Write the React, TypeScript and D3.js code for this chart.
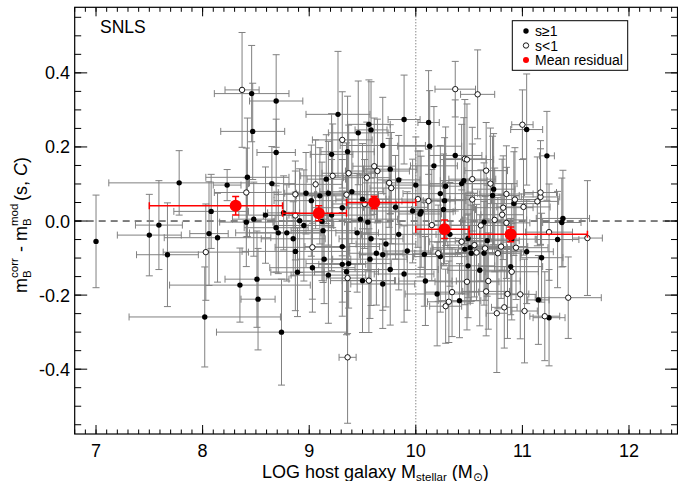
import React from "react";
import * as d3 from "d3";

// s >= 1 (filled)
const filledX = [7.00,7.50,7.59,7.67,7.78,8.02,8.06,8.08,8.14,8.23,8.35,8.42,8.41,8.46,8.47,8.48,8.51,8.52,8.59,8.65,8.69,8.69,8.69,8.71,8.74,8.76,8.79,8.85,8.87,8.89,8.91,8.95,8.97,9.02,9.03,9.10,9.12,9.13,9.14,9.16,9.18,9.18,9.21,9.21,9.27,9.31,9.31,9.31,9.35,9.36,9.37,9.40,9.45,9.46,9.48,9.50,9.50,9.55,9.56,9.57,9.58,9.58,9.63,9.69,9.69,9.69,9.72,9.76,9.76,9.81,9.84,9.84,9.89,9.89,9.92,9.97,10.00,10.05,10.04,10.08,10.09,10.12,10.13,10.17,10.20,10.23,10.23,10.27,10.26,10.28,10.32,10.37,10.41,10.43,10.45,10.46,10.49,10.49,10.51,10.52,10.60,10.64,10.64,10.67,10.73,10.72,10.89,10.90,10.92,11.04,11.04,11.15,11.18,11.23,11.25,11.33,11.38,11.37];
const filledY = [-0.055,-0.038,-0.011,-0.091,0.103,-0.259,-0.034,0.026,-0.045,0.097,-0.173,0.118,-0.003,0.344,0.242,0.005,-0.157,-0.211,0.016,0.101,0.185,0.324,-0.018,-0.032,-0.300,0.022,-0.032,-0.048,-0.082,-0.138,0.001,-0.012,0.075,0.055,-0.126,0.068,-0.001,-0.026,-0.103,0.113,0.075,-0.146,0.180,0.016,0.288,0.036,-0.069,-0.117,-0.137,0.187,-0.115,0.079,-0.032,0.238,0.005,0.059,-0.161,-0.003,0.261,-0.103,0.246,-0.048,-0.087,0.204,-0.091,-0.170,-0.062,0.140,-0.131,0.037,0.111,-0.036,0.274,-0.143,-0.081,0.027,0.097,0.025,0.019,-0.090,-0.162,0.266,0.202,0.149,-0.197,-0.096,0.074,0.055,0.031,0.094,-0.036,0.177,-0.215,0.101,0.109,-0.076,-0.047,-0.121,-0.072,-0.087,-0.133,-0.003,-0.087,-0.053,0.086,0.069,-0.123,-0.049,0.047,0.247,-0.083,-0.213,-0.099,0.176,-0.261,-0.050,0.007,-0.004];
const filledXErr = [0,0.30,0.22,0.29,0.66,0.71,0.18,0.35,0.50,0.13,0.66,0.39,0.25,0.35,0.30,0.20,0.30,0.16,0.25,0.22,0.18,0.25,0.30,0.40,0.61,0.15,0.35,0.30,0.50,0.25,0.12,0.28,0.20,0.35,0.40,0.22,0.45,0.30,0.25,0.18,0.30,0.35,0.20,0.40,0.30,0.28,0.35,0.22,0.30,0.25,0.40,0.30,0.20,0.28,0.35,0.25,0.30,0.22,0.20,0.35,0.15,0.30,0.25,0.40,0.22,0.30,0.28,0.25,0.45,0.30,0.20,0.35,0.15,0.28,0.22,0.40,0.25,0.30,0.20,0.35,0.25,0.10,0.30,0.22,0.30,0.25,0.35,0.20,0.30,0.15,0.28,0.25,0.20,0.30,0.22,0.30,0.20,0.25,0.35,0.28,0.30,0.22,0.25,0.30,0.20,0.25,0.30,0.22,0.25,0.15,0.25,0.10,0.20,0.07,0.15,0.20,0.25,0.18];
const filledYErr = [0.125,0.11,0.12,0.14,0.087,0.135,0.14,0.10,0.12,0.042,0.10,0.16,0.12,0.13,0.13,0.10,0.13,0.137,0.13,0.10,0.09,0.125,0.12,0.11,0.143,0.10,0.13,0.10,0.16,0.12,0.14,0.15,0.11,0.15,0.12,0.13,0.16,0.14,0.12,0.12,0.14,0.13,0.11,0.15,0.17,0.13,0.15,0.14,0.17,0.15,0.12,0.14,0.16,0.14,0.12,0.15,0.14,0.13,0.12,0.16,0.13,0.18,0.14,0.13,0.15,0.12,0.17,0.12,0.15,0.14,0.12,0.15,0.12,0.13,0.16,0.14,0.13,0.15,0.17,0.14,0.12,0.14,0.15,0.16,0.14,0.15,0.13,0.17,0.15,0.16,0.14,0.15,0.10,0.16,0.17,0.15,0.16,0.14,0.15,0.13,0.15,0.16,0.14,0.15,0.15,0.16,0.13,0.15,0.14,0.15,0.14,0.12,0.12,0.12,0.13,0.13,0.13,0.12];

// s < 1 (open)
const openX = [8.03,8.37,8.41,8.87,8.87,9.03,9.06,9.22,9.31,9.36,9.35,9.37,9.36,9.52,9.54,9.56,9.61,9.64,9.75,9.77,10.02,10.12,10.15,10.21,10.28,10.31,10.34,10.37,10.43,10.46,10.48,10.48,10.53,10.53,10.55,10.57,10.58,10.61,10.65,10.66,10.66,10.68,10.70,10.74,10.76,10.77,10.80,10.81,10.82,10.83,10.85,10.85,10.86,10.90,10.93,10.94,10.98,11.00,11.01,11.02,11.14,11.17,11.17,11.21,11.25,11.43,11.61];
const openY = [-0.084,0.354,0.077,0.072,0.015,-0.071,0.099,0.122,0.219,-0.154,0.071,0.129,-0.368,0.046,0.117,-0.161,0.148,0.135,0.103,0.089,0.059,0.054,-0.011,-0.087,-0.230,-0.218,-0.192,0.356,-0.056,0.168,0.166,-0.164,0.113,0.058,-0.065,-0.085,0.342,-0.012,-0.074,0.136,-0.190,-0.162,0.101,0.003,-0.249,-0.087,-0.069,0.017,0.036,-0.233,0.073,-0.005,-0.197,-0.137,0.058,-0.072,-0.198,0.260,0.038,-0.243,0.053,0.065,0.077,-0.257,-0.030,-0.207,-0.046];
const openXErr = [0.40,0.16,0.30,0.20,0.30,0.35,0.25,0.30,0.28,0.20,0.30,0.25,0.08,0.30,0.22,0.25,0.20,0.30,0.25,0.20,0.30,0.25,0.30,0.22,0.15,0.20,0.25,0.19,0.30,0.20,0.25,0.30,0.22,0.30,0.25,0.20,0.16,0.28,0.25,0.20,0.22,0.30,0.25,0.30,0.10,0.22,0.25,0.20,0.28,0.12,0.25,0.22,0.20,0.25,0.22,0.30,0.15,0.10,0.25,0.12,0.20,0.18,0.15,0.14,0.22,0.31,0.14];
const openYErr = [0.13,0.155,0.12,0.09,0.12,0.14,0.12,0.14,0.13,0.15,0.14,0.13,0.178,0.12,0.15,0.14,0.13,0.14,0.12,0.15,0.13,0.14,0.15,0.13,0.10,0.11,0.12,0.075,0.14,0.16,0.15,0.13,0.14,0.15,0.14,0.13,0.12,0.15,0.14,0.13,0.12,0.13,0.15,0.14,0.16,0.15,0.14,0.15,0.14,0.11,0.13,0.15,0.12,0.13,0.14,0.14,0.12,0.094,0.13,0.14,0.12,0.13,0.14,0.12,0.13,0.11,0.155];

// Mean residuals in mass bins
const meanX = [8.31, 9.09, 9.61, 10.27, 10.89];
const meanY = [0.041, 0.021, 0.050, -0.022, -0.036];
const meanYErr = [0.025, 0.02, 0.017, 0.025, 0.02];
const binLo = [7.50, 8.75, 9.35, 10.00, 10.50];
const binHi = [8.75, 9.35, 10.00, 10.50, 11.61];

const xMajor = [7, 8, 9, 10, 11, 12];
const yMajor = [-0.4, -0.2, 0.0, 0.2, 0.4];
const yMajorLabels = ["-0.4", "-0.2", "0.0", "0.2", "0.4"];

const FONT = "'Liberation Sans', Arial, Helvetica, sans-serif";

export default function App() {
  const L = 74.7, R = 677.5, T = 7.3, B = 434;
  const x = d3.scaleLinear().domain([6.8, 12.455]).range([L, R]);
  const y = d3.scaleLinear().domain([-0.575, 0.577]).range([B, T]);

  const xMinor = d3.range(68, 125).map((v) => v / 10);
  const yMinor = d3.range(-11, 12).map((v) => v * 0.05);

  const barColor = "#808080";
  const cap = 3.5;

  const errBars = (xs, ys, xe, ye, key) =>
    xs.map((xv, i) => {
      const cx = x(xv), cy = y(ys[i]);
      const x0 = x(xv - xe[i]), x1 = x(xv + xe[i]);
      const y0 = y(ys[i] + ye[i]), y1 = y(ys[i] - ye[i]);
      return (
        <g key={key + i} stroke={barColor} strokeWidth={1} fill="none">
          {xe[i] > 0 && (
            <g>
              <line x1={x0} x2={x1} y1={cy} y2={cy} />
              <line x1={x0} x2={x0} y1={cy - cap} y2={cy + cap} />
              <line x1={x1} x2={x1} y1={cy - cap} y2={cy + cap} />
            </g>
          )}
          <line x1={cx} x2={cx} y1={y0} y2={y1} />
          <line x1={cx - cap} x2={cx + cap} y1={y0} y2={y0} />
          <line x1={cx - cap} x2={cx + cap} y1={y1} y2={y1} />
        </g>
      );
    });

  return (
    <svg width={678} height={481} style={{ position: "absolute", left: 0, top: 0, background: "#fff" }} fontFamily={FONT}>
      <rect x={0} y={0} width={678} height={481} fill="#fff" />
      <defs>
        <clipPath id="plotclip">
          <rect x={L} y={T} width={R - L} height={B - T} />
        </clipPath>
      </defs>
      <g clipPath="url(#plotclip)">
        <line x1={L} x2={R} y1={y(0)} y2={y(0)} stroke="#000" strokeWidth={1} strokeDasharray="7,5" />
        <line x1={x(10)} x2={x(10)} y1={T} y2={B} stroke="#555" strokeWidth={1} strokeDasharray="1,2" />
        {errBars(filledX, filledY, filledXErr, filledYErr, "fe")}
        {errBars(openX, openY, openXErr, openYErr, "oe")}
        {filledX.map((xv, i) => (
          <circle key={"f" + i} cx={x(xv)} cy={y(filledY[i])} r={2.7} fill="#000" />
        ))}
        {openX.map((xv, i) => (
          <circle key={"o" + i} cx={x(xv)} cy={y(openY[i])} r={2.7} fill="#fff" stroke="#000" strokeWidth={0.9} />
        ))}
        {meanX.map((xv, i) => {
          const cy = y(meanY[i]);
          const cx = x(xv);
          const a = x(binLo[i]), b = x(binHi[i]);
          const y0 = y(meanY[i] + meanYErr[i]), y1 = y(meanY[i] - meanYErr[i]);
          return (
            <g key={"m" + i} stroke="#ff0000" strokeWidth={1.5}>
              <line x1={a} x2={b} y1={cy} y2={cy} />
              <line x1={a} x2={a} y1={cy - cap} y2={cy + cap} />
              <line x1={b} x2={b} y1={cy - cap} y2={cy + cap} />
              <line x1={cx} x2={cx} y1={y0} y2={y1} />
              <line x1={cx - cap} x2={cx + cap} y1={y0} y2={y0} />
              <line x1={cx - cap} x2={cx + cap} y1={y1} y2={y1} />
              <circle cx={cx} cy={cy} r={6} fill="#ff0000" stroke="none" />
            </g>
          );
        })}
      </g>

      <rect x={L} y={T} width={R - L} height={B - T} fill="none" stroke="#000" strokeWidth={1.2} />

      <g stroke="#000" strokeWidth={1}>
        {xMinor.map((v, i) => (
          <g key={"xm" + i}>
            <line x1={x(v)} x2={x(v)} y1={B} y2={B - 4.5} />
            <line x1={x(v)} x2={x(v)} y1={T} y2={T + 4.5} />
          </g>
        ))}
        {xMajor.map((v, i) => (
          <g key={"xM" + i}>
            <line x1={x(v)} x2={x(v)} y1={B} y2={B - 9} />
            <line x1={x(v)} x2={x(v)} y1={T} y2={T + 9} />
          </g>
        ))}
        {yMinor.map((v, i) => (
          <g key={"ym" + i}>
            <line x1={L} x2={L + 6.5} y1={y(v)} y2={y(v)} />
            <line x1={R} x2={R - 6.5} y1={y(v)} y2={y(v)} />
          </g>
        ))}
        {yMajor.map((v, i) => (
          <g key={"yM" + i}>
            <line x1={L} x2={L + 12.5} y1={y(v)} y2={y(v)} />
            <line x1={R} x2={R - 12.5} y1={y(v)} y2={y(v)} />
          </g>
        ))}
      </g>

      {xMajor.map((v, i) => (
        <text key={"xl" + i} x={x(v)} y={457} fontSize={18} textAnchor="middle" fill="#000">
          {String(v)}
        </text>
      ))}
      {yMajor.map((v, i) => (
        <text key={"yl" + i} x={70} y={y(v)} dy="0.36em" fontSize={18} textAnchor="end" fill="#000">
          {yMajorLabels[i]}
        </text>
      ))}

      <text x={262} y={477.5} fontSize={18} fill="#000">
        LOG host galaxy M
        <tspan fontSize={11.5} dy={3}>stellar</tspan>
        <tspan dy={-3}> (M</tspan>
        <tspan fontSize={11.5} dy={3}>⊙</tspan>
        <tspan dy={-3}>)</tspan>
      </text>

      <g transform="translate(27,293) rotate(-90)" fill="#000">
        <text x={0} y={0} fontSize={18}>m</text>
        <text x={15} y={4} fontSize={11.5}>B</text>
        <text x={15} y={-9} fontSize={11.5}>corr</text>
        <text x={41} y={0} fontSize={18}>-</text>
        <text x={52} y={0} fontSize={18}>m</text>
        <text x={67} y={4} fontSize={11.5}>B</text>
        <text x={67} y={-9} fontSize={11.5}>mod</text>
        <text x={92} y={0} fontSize={18}>
          (s, <tspan fontStyle="italic">C</tspan>)
        </text>
      </g>

      <text x={100} y={33.3} fontSize={17.5} fill="#000">SNLS</text>

      <rect x={512.3} y={20.7} width={115.4} height={49.6} fill="#fff" stroke="#000" strokeWidth={1} />
      <circle cx={526} cy={31} r={2.7} fill="#000" />
      <text x={535} y={36} fontSize={14} fill="#000">s≥1</text>
      <circle cx={526} cy={45.5} r={2.7} fill="#fff" stroke="#000" strokeWidth={0.9} />
      <text x={535} y={50.5} fontSize={14} fill="#000">s&lt;1</text>
      <circle cx={526} cy={60} r={3} fill="#ff0000" />
      <text x={535} y={65} fontSize={14} fill="#000">Mean residual</text>
    </svg>
  );
}
